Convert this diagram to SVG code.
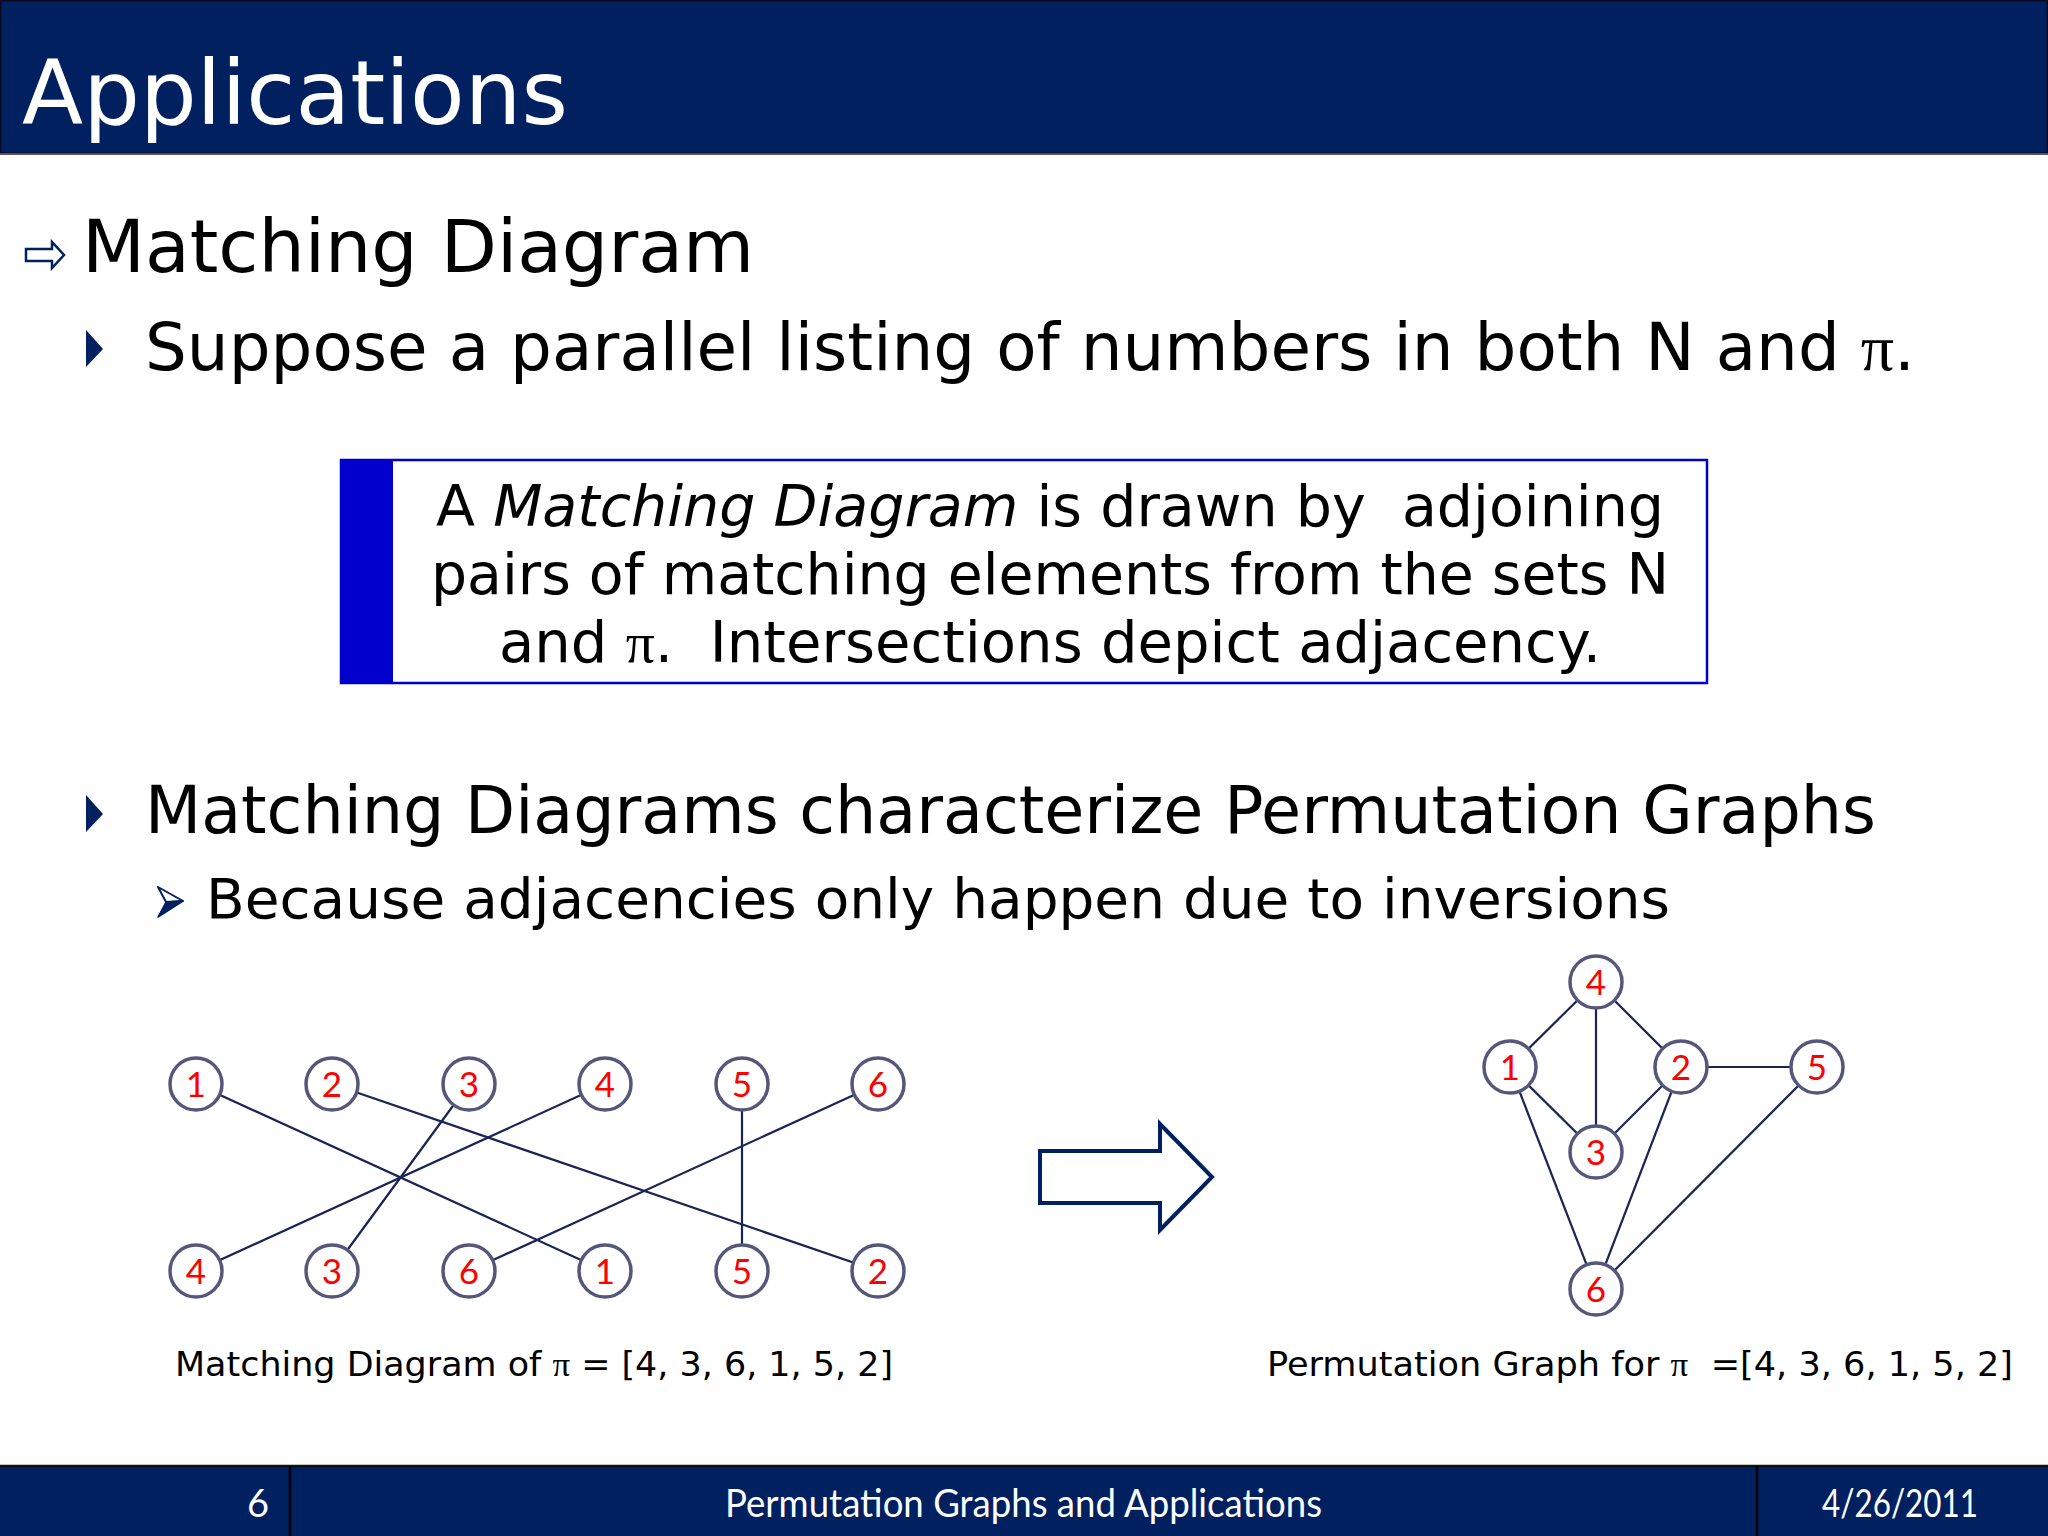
<svg xmlns="http://www.w3.org/2000/svg" width="2048" height="1536" viewBox="0 0 2048 1536">
<style>
  .body { font-family: "DejaVu Sans", Verdana, sans-serif; fill: #000; }
  .white { fill: #fff; }
  .foot { font-family: "Lato", "Liberation Sans", sans-serif; fill: #fff; font-size: 38px; }
  .num { font-family: "Lato", "Liberation Sans", sans-serif; fill: #ff0000; font-size: 35px; text-anchor: middle; }
  .node circle { fill: #fff; stroke: #55577a; stroke-width: 3.5; }
  .edge { stroke: #1a2455; stroke-width: 2.2; fill: none; }
  .navy { fill: #002060; }
  .pi { font-family: "Liberation Serif", "DejaVu Serif", serif; }
</style>
<rect x="0" y="0" width="2048" height="1536" fill="#fff"/>

<!-- header -->
<g id="header">
  <rect x="0.5" y="0.5" width="2047" height="153" class="navy" stroke="#0a0a20" stroke-width="2"/>
  <line x1="0" y1="154" x2="2048" y2="154" stroke="#555" stroke-width="2"/>
  <text x="22" y="124" class="body white" font-size="89" textLength="546" lengthAdjust="spacingAndGlyphs">Applications</text>
</g>

<!-- bullets and body text -->
<g id="bullet1">
  <polygon points="26,249 52,249 52,242 64,255 52,268 52,261 26,261" fill="#fff" stroke="#002060" stroke-width="2.5" stroke-linejoin="miter"/>
  <text x="82" y="272" class="body" font-size="73" textLength="672" lengthAdjust="spacingAndGlyphs">Matching Diagram</text>
</g>
<g id="bullet2">
  <polygon points="86,330 103,349 86,367" class="navy"/>
  <text x="145" y="370" class="body" font-size="65" textLength="1770" lengthAdjust="spacingAndGlyphs">Suppose a parallel listing of numbers in both N and <tspan class="pi">π</tspan>.</text>
</g>

<g id="definition-box">
  <rect x="341" y="460" width="1366" height="223" fill="#fff" stroke="#0000cc" stroke-width="2.5"/>
  <rect x="341" y="460" width="52" height="223" fill="#0000cc"/>
  <text x="1050" y="526" class="body" font-size="57" text-anchor="middle" textLength="1228" lengthAdjust="spacingAndGlyphs" xml:space="preserve">A <tspan font-style="italic">Matching Diagram</tspan> is drawn by  adjoining</text>
  <text x="1050" y="594" class="body" font-size="57" text-anchor="middle" textLength="1238" lengthAdjust="spacingAndGlyphs">pairs of matching elements from the sets N</text>
  <text x="1050" y="662" class="body" font-size="57" text-anchor="middle" textLength="1102" lengthAdjust="spacingAndGlyphs" xml:space="preserve">and <tspan class="pi">π</tspan>.  Intersections depict adjacency.</text>
</g>

<g id="bullet3">
  <polygon points="86,795 103,814 86,832" class="navy"/>
  <text x="145" y="833" class="body" font-size="65" textLength="1731" lengthAdjust="spacingAndGlyphs">Matching Diagrams characterize Permutation Graphs</text>
</g>
<g id="bullet4">
  <polygon points="158,887 183,901 166,902" fill="#fff" stroke="#002060" stroke-width="2" stroke-linejoin="round"/>
  <polygon points="166,902 183,901 158,917" class="navy" stroke="#002060" stroke-width="1.5" stroke-linejoin="round"/>
  <text x="206" y="918" class="body" font-size="56" textLength="1464" lengthAdjust="spacingAndGlyphs">Because adjacencies only happen due to inversions</text>
</g>

<!-- connectors -->
<g id="connectors">
  <!-- matching diagram -->
  <line class="edge" x1="196" y1="1084" x2="605" y2="1271"/>
  <line class="edge" x1="332" y1="1084" x2="878" y2="1271"/>
  <line class="edge" x1="469" y1="1084" x2="332" y2="1271"/>
  <line class="edge" x1="605" y1="1084" x2="196" y2="1271"/>
  <line class="edge" x1="742" y1="1084" x2="742" y2="1271"/>
  <line class="edge" x1="878" y1="1084" x2="469" y2="1271"/>
  <!-- permutation graph -->
  <line class="edge" x1="1596" y1="982" x2="1510" y2="1067"/>
  <line class="edge" x1="1596" y1="982" x2="1596" y2="1152"/>
  <line class="edge" x1="1596" y1="982" x2="1681" y2="1067"/>
  <line class="edge" x1="1510" y1="1067" x2="1596" y2="1152"/>
  <line class="edge" x1="1681" y1="1067" x2="1596" y2="1152"/>
  <line class="edge" x1="1681" y1="1067" x2="1817" y2="1067"/>
  <line class="edge" x1="1510" y1="1067" x2="1596" y2="1289"/>
  <line class="edge" x1="1681" y1="1067" x2="1596" y2="1289"/>
  <line class="edge" x1="1817" y1="1067" x2="1596" y2="1289"/>
</g>

<!-- matching diagram nodes: top row N -->
<g id="top-1" class="node"><circle cx="196" cy="1084" r="26"/><text class="num" x="196" y="1097">1</text></g>
<g id="top-2" class="node"><circle cx="332" cy="1084" r="26"/><text class="num" x="332" y="1097">2</text></g>
<g id="top-3" class="node"><circle cx="469" cy="1084" r="26"/><text class="num" x="469" y="1097">3</text></g>
<g id="top-4" class="node"><circle cx="605" cy="1084" r="26"/><text class="num" x="605" y="1097">4</text></g>
<g id="top-5" class="node"><circle cx="742" cy="1084" r="26"/><text class="num" x="742" y="1097">5</text></g>
<g id="top-6" class="node"><circle cx="878" cy="1084" r="26"/><text class="num" x="878" y="1097">6</text></g>
<!-- bottom row pi -->
<g id="bot-4" class="node"><circle cx="196" cy="1271" r="26"/><text class="num" x="196" y="1284">4</text></g>
<g id="bot-3" class="node"><circle cx="332" cy="1271" r="26"/><text class="num" x="332" y="1284">3</text></g>
<g id="bot-6" class="node"><circle cx="469" cy="1271" r="26"/><text class="num" x="469" y="1284">6</text></g>
<g id="bot-1" class="node"><circle cx="605" cy="1271" r="26"/><text class="num" x="605" y="1284">1</text></g>
<g id="bot-5" class="node"><circle cx="742" cy="1271" r="26"/><text class="num" x="742" y="1284">5</text></g>
<g id="bot-2" class="node"><circle cx="878" cy="1271" r="26"/><text class="num" x="878" y="1284">2</text></g>

<!-- big arrow -->
<g id="arrow">
  <polygon points="1040,1151 1160,1151 1160,1124 1212,1177 1160,1230 1160,1203 1040,1203" fill="#fff" stroke="#002060" stroke-width="4"/>
</g>

<!-- permutation graph nodes -->
<g id="pg-4" class="node"><circle cx="1596" cy="982" r="26"/><text class="num" x="1596" y="995">4</text></g>
<g id="pg-1" class="node"><circle cx="1510" cy="1067" r="26"/><text class="num" x="1510" y="1080">1</text></g>
<g id="pg-2" class="node"><circle cx="1681" cy="1067" r="26"/><text class="num" x="1681" y="1080">2</text></g>
<g id="pg-5" class="node"><circle cx="1817" cy="1067" r="26"/><text class="num" x="1817" y="1080">5</text></g>
<g id="pg-3" class="node"><circle cx="1596" cy="1152" r="26"/><text class="num" x="1596" y="1165">3</text></g>
<g id="pg-6" class="node"><circle cx="1596" cy="1289" r="26"/><text class="num" x="1596" y="1302">6</text></g>

<!-- captions -->
<g id="captions">
  <text x="175" y="1376" class="body" font-size="33" textLength="718" lengthAdjust="spacingAndGlyphs">Matching Diagram of <tspan class="pi">π</tspan> = [4, 3, 6, 1, 5, 2]</text>
  <text x="1267" y="1376" class="body" font-size="33" textLength="746" lengthAdjust="spacingAndGlyphs" xml:space="preserve">Permutation Graph for <tspan class="pi">π</tspan>  =[4, 3, 6, 1, 5, 2]</text>
</g>

<!-- footer -->
<g id="footer">
  <rect x="0" y="1466" width="2048" height="70" class="navy"/>
  <line x1="0" y1="1466" x2="2048" y2="1466" stroke="#111" stroke-width="2.5"/>
  <line x1="290" y1="1466" x2="290" y2="1536" stroke="#000" stroke-width="2.5"/>
  <line x1="1757" y1="1466" x2="1757" y2="1536" stroke="#000" stroke-width="2.5"/>
  <text x="269" y="1517" class="foot" text-anchor="end">6</text>
  <text x="725" y="1517" class="foot" textLength="597" lengthAdjust="spacingAndGlyphs">Permutation Graphs and Applications</text>
  <text x="1822" y="1517" class="foot" textLength="156" lengthAdjust="spacingAndGlyphs">4/26/2011</text>
</g>
</svg>
